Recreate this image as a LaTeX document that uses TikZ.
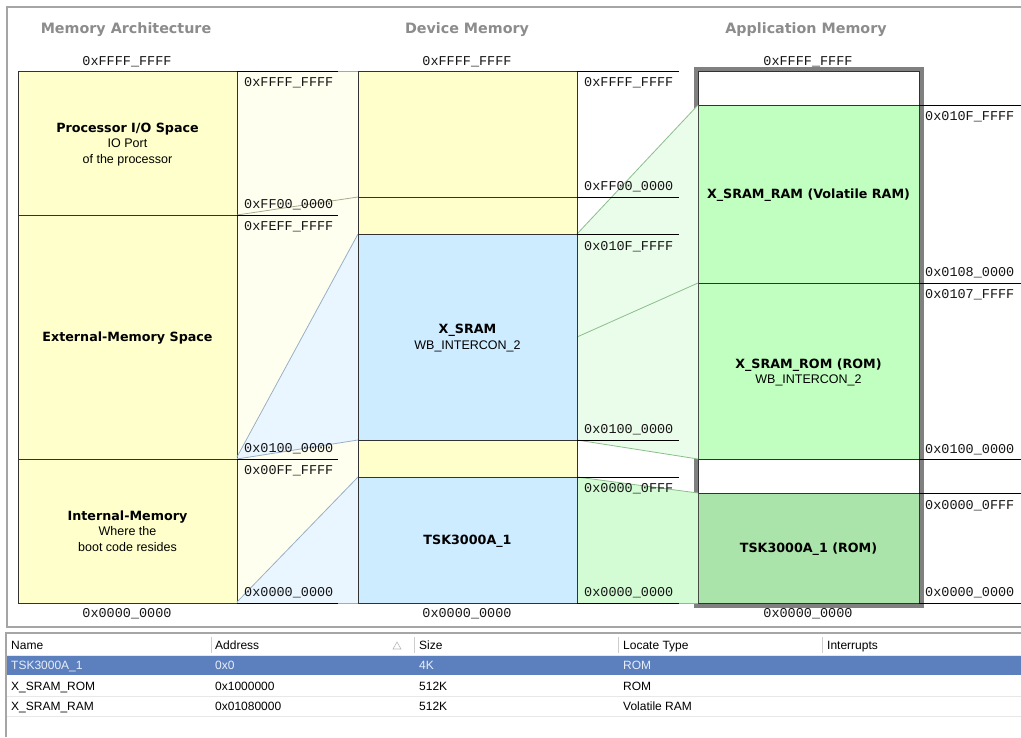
\documentclass[tikz,border=0pt]{standalone}
\usepackage{fontspec}
\setmainfont{Liberation Sans}
\newfontfamily\dvs{DejaVu Sans}
\newfontfamily\monof{Liberation Mono}
\definecolor{ylw}{RGB}{255,255,204}
\definecolor{paleylw}{RGB}{255,255,240}
\definecolor{blu}{RGB}{206,236,255}
\definecolor{paleblu}{RGB}{234,246,255}
\definecolor{grn}{RGB}{192,255,192}
\definecolor{dkgrn}{RGB}{170,228,170}
\definecolor{palegrn}{RGB}{234,252,234}
\definecolor{midgrn}{RGB}{212,252,212}
\definecolor{hdrc}{RGB}{140,140,140}
\definecolor{selblue}{RGB}{92,128,190}
\definecolor{framec}{RGB}{165,165,165}
\definecolor{boxline}{RGB}{50,50,50}
\definecolor{ylwline}{RGB}{170,170,140}
\definecolor{bluline}{RGB}{150,175,200}
\definecolor{grnline}{RGB}{140,190,140}
\definecolor{addrc}{RGB}{20,20,20}
\definecolor{sepc}{RGB}{205,205,205}
\definecolor{rowline}{RGB}{232,232,232}
\definecolor{seltext}{RGB}{232,238,248}
\newcommand\bfnt{\dvs\bfseries\fontsize{12.7}{15.5}\selectfont}
\tikzset{
  memblk/.style={draw=boxline, line width=0.9pt, inner sep=0pt, outer sep=0pt,
    anchor=north west, align=center, text depth=0pt, font=\fontsize{12.5}{15.5}\selectfont},
  hdrtext/.style={text=hdrc, font=\dvs\bfseries\fontsize{14.3}{16}\selectfont, inner sep=0pt, yshift=-2.5pt},
  addr/.style={text=addrc, font=\monof\fontsize{13.5}{14}\selectfont, inner sep=0pt, anchor=mid west, yshift=-1.8pt},
  addrc/.style={text=addrc, font=\monof\fontsize{13.5}{14}\selectfont, inner sep=0pt, anchor=mid, yshift=-1.8pt},
  tick/.style={draw=black, line width=1pt},
  yline/.style={draw=ylwline, line width=0.8pt},
  bline/.style={draw=bluline, line width=0.8pt},
  gline/.style={draw=grnline, line width=0.8pt},
  tbl/.style={font=\fontsize{12}{14}\selectfont, inner sep=0pt, anchor=mid west, yshift=-1.6pt},
}
\begin{document}
\begin{tikzpicture}[x=1pt,y=-1pt]
\useasboundingbox (0,0) rectangle (1021,737);
\fill[white] (0,0) rectangle (1021,737);

% outer frame of diagram area
\draw[framec, line width=1.3pt] (1021,7) -- (7,7) -- (7,627) -- (1021,627);

% column headings
\node[hdrtext] (h1) at (126,27) {Memory Architecture};
\node[hdrtext] (h2) at (467,27) {Device Memory};
\node[hdrtext] (h3) at (806,27) {Application Memory};

% pale strip between first and second column
\fill[paleylw] (237,71) rectangle (358,603);

% ---- Memory Architecture column
\node[memblk, fill=ylw, minimum width=219pt, minimum height=144pt] (io) at (18,71)
  {{\bfnt Processor I/O Space}\\IO Port\\of the processor};
\node[memblk, fill=ylw, minimum width=219pt, minimum height=244pt] (ext) at (18,215)
  {{\bfnt External-Memory Space}};
\node[memblk, fill=ylw, minimum width=219pt, minimum height=144pt] (int) at (18,459)
  {{\bfnt Internal-Memory}\\Where the\\boot code resides};

% ---- Device Memory column
\node[memblk, fill=ylw, minimum width=219pt, minimum height=126pt] (dio) at (358,71) {};
\node[memblk, fill=ylw, minimum width=219pt, minimum height=37pt] (dgap1) at (358,197) {};
\node[memblk, fill=blu, minimum width=219pt, minimum height=206pt] (xsram) at (358,234)
  {{\bfnt X\_SRAM}\\WB\_INTERCON\_2};
\node[memblk, fill=ylw, minimum width=219pt, minimum height=37pt] (dgap2) at (358,440) {};
\node[memblk, fill=blu, minimum width=219pt, minimum height=126pt] (dtsk) at (358,477)
  {{\bfnt TSK3000A\_1}};

% ---- Application Memory column
\draw[gray, line width=4pt] (695.5,68.5) rectangle (921.5,605.5);
\node[memblk, fill=white, minimum width=221pt, minimum height=34pt] (atop) at (698,71) {};
\node[memblk, fill=grn, minimum width=221pt, minimum height=178pt] (aram) at (698,105)
  {{\bfnt X\_SRAM\_RAM (Volatile RAM)}};
\node[memblk, fill=grn, minimum width=221pt, minimum height=176pt] (arom) at (698,283)
  {{\bfnt X\_SRAM\_ROM (ROM)}\\WB\_INTERCON\_2};
\node[memblk, fill=white, minimum width=221pt, minimum height=34pt] (agap) at (698,459) {};
\node[memblk, fill=dkgrn, minimum width=221pt, minimum height=110pt] (atsk) at (698,493)
  {{\bfnt TSK3000A\_1 (ROM)}};

% ---- mapping wedges, strip 1
\fill[paleblu] (ext.south east) -- (xsram.north west) -- (xsram.south west) -- cycle;
\fill[paleblu] (int.south east) -- (dtsk.north west) -- (dtsk.south west) -- cycle;
\draw[yline] (io.north east) -- (dio.north west);
\draw[yline] (io.south east) -- (dio.south west);
\draw[bline] ([yshift=2pt]ext.south east) -- (xsram.north west);
\draw[bline] (ext.south east) -- (xsram.south west);
\draw[bline] ([yshift=1pt]int.south east) -- (dtsk.north west);
\draw[bline] (int.south east) -- (dtsk.south west);

% ---- mapping wedges, strip 2
\fill[palegrn] (xsram.north east) -- (aram.north west) -- (arom.south west) -- (xsram.south east) -- cycle;
\fill[midgrn] (dtsk.north east) -- (atsk.north west) -- (atsk.south west) -- (dtsk.south east) -- cycle;
\draw[gline] (xsram.north east) -- (aram.north west);
\draw[gline] (xsram.east) -- (arom.north west);
\draw[gline] (xsram.south east) -- (arom.south west);
\draw[gline] (dtsk.north east) -- (atsk.north west);
\draw[gline] (dtsk.south east) -- (atsk.south west);

% redraw column edges over wedges
\draw[boxline, line width=0.9pt] (dio.north west) -- (dtsk.south west);
\draw[boxline, line width=0.9pt] (dio.north east) -- (dtsk.south east);

% ---- address ticks
\draw[tick] (io.north east) -- ++(101,0);
\draw[tick] (io.south east) -- ++(101,0);
\draw[tick] (int.north east) -- ++(101,0);
\draw[tick] (int.south east) -- ++(101,0);
\draw[tick] (dio.north east) -- ++(102,0);
\draw[tick] (dio.south east) -- ++(102,0);
\draw[tick] (xsram.north east) -- ++(102,0);
\draw[tick] (xsram.south east) -- ++(102,0);
\draw[tick] (dtsk.north east) -- ++(102,0);
\draw[tick] (dtsk.south east) -- ++(102,0);
\draw[tick] (aram.north east) -- ++(103,0);
\draw[tick] (arom.north east) -- ++(103,0);
\draw[tick] (agap.north east) -- ++(103,0);
\draw[tick] (atsk.north east) -- ++(103,0);
\draw[tick] (atsk.south east) -- ++(103,0);

% ---- address labels
\node[addrc] (t1) at (127,61) {0xFFFF\_FFFF};
\node[addrc] (t2) at (467,61) {0xFFFF\_FFFF};
\node[addrc] (t3) at (808,61) {0xFFFF\_FFFF};
\node[addrc] (b1) at (127,613) {0x0000\_0000};
\node[addrc] (b2) at (467,613) {0x0000\_0000};
\node[addrc] (b3) at (808,613) {0x0000\_0000};

\node[addr] (l1) at (244,82) {0xFFFF\_FFFF};
\node[addr] (l2) at (244,204) {0xFF00\_0000};
\node[addr] (l3) at (244,226) {0xFEFF\_FFFF};
\node[addr] (l4) at (244,448) {0x0100\_0000};
\node[addr] (l5) at (244,470) {0x00FF\_FFFF};
\node[addr] (l6) at (244,592) {0x0000\_0000};

\node[addr] (m1) at (584,82) {0xFFFF\_FFFF};
\node[addr] (m2) at (584,186) {0xFF00\_0000};
\node[addr] (m3) at (584,246) {0x010F\_FFFF};
\node[addr] (m4) at (584,429) {0x0100\_0000};
\node[addr] (m5) at (584,488) {0x0000\_0FFF};
\node[addr] (m6) at (584,592) {0x0000\_0000};

\node[addr] (r1) at (925,116) {0x010F\_FFFF};
\node[addr] (r2) at (925,272) {0x0108\_0000};
\node[addr] (r3) at (925,294) {0x0107\_FFFF};
\node[addr] (r4) at (925,449) {0x0100\_0000};
\node[addr] (r5) at (925,505) {0x0000\_0FFF};
\node[addr] (r6) at (925,592) {0x0000\_0000};

% ---- table
\draw[framec, line width=1.2pt] (6,737) -- (6,633) -- (1021,633);
\draw[rowline, line width=1pt] (7,655) -- (1021,655);
\foreach \sx in {211,414,618,822} \draw[sepc, line width=1pt] (\sx,637) -- (\sx,653);
\draw[gray!55, line width=0.6pt] (393,649) -- (397,642) -- (401,649) -- cycle;
\node[tbl] (c1) at (11,645) {Name};
\node[tbl] (c2) at (215,645) {Address};
\node[tbl] (c3) at (419,645) {Size};
\node[tbl] (c4) at (623,645) {Locate Type};
\node[tbl] (c5) at (827,645) {Interrupts};

\fill[selblue] (7,656) rectangle (1021,675);
\node[tbl, text=seltext] (r1a) at (11,665.5) {TSK3000A\_1};
\node[tbl, text=seltext] (r1b) at (215,665.5) {0x0};
\node[tbl, text=seltext] (r1c) at (419,665.5) {4K};
\node[tbl, text=seltext] (r1d) at (623,665.5) {ROM};

\draw[rowline, line width=1pt] (7,696) -- (1021,696);
\draw[rowline, line width=1pt] (7,716) -- (1021,716);
\node[tbl] (r2a) at (11,686) {X\_SRAM\_ROM};
\node[tbl] (r2b) at (215,686) {0x1000000};
\node[tbl] (r2c) at (419,686) {512K};
\node[tbl] (r2d) at (623,686) {ROM};
\node[tbl] (r3a) at (11,706) {X\_SRAM\_RAM};
\node[tbl] (r3b) at (215,706) {0x01080000};
\node[tbl] (r3c) at (419,706) {512K};
\node[tbl] (r3d) at (623,706) {Volatile RAM};
\end{tikzpicture}
\end{document}
